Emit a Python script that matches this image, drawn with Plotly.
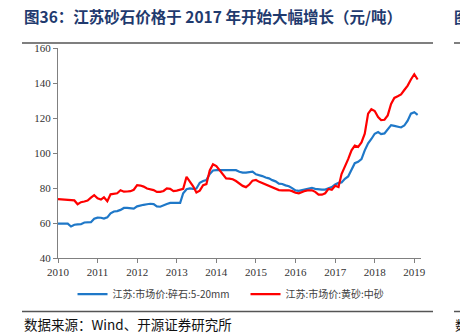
import plotly.graph_objects as go
import pandas as pd

dates = pd.date_range("2010-01-01", periods=110, freq="MS")

gravel = [59.6, 59.5, 59.6, 59.6, 58.0, 59.0, 59.2, 59.3, 60.3, 60.6,
          60.5, 62.5, 63.1, 63.0, 62.5, 63.2, 65.5, 66.6, 66.8, 67.5,
          68.6, 68.6, 68.6, 68.2, 69.5, 70.1, 70.4, 70.7, 71.0, 70.8,
          69.5, 69.3, 70.2, 70.9, 71.5, 71.5, 71.3, 71.5, 77.0, 79.3,
          79.8, 79.5, 79.7, 83.0, 84.0, 84.5, 88.0, 90.0, 90.2, 90.2,
          90.3, 90.5, 90.6, 90.5, 90.2, 89.3, 88.8, 88.8, 89.0, 89.3,
          87.8, 87.4, 86.8, 86.0, 85.5, 84.5, 83.8, 82.5, 82.3, 81.5,
          81.0, 79.9, 78.6, 78.4, 78.8, 79.5, 80.0, 80.0, 79.5, 79.2,
          79.1, 79.1, 79.8, 80.5, 82.0, 82.9, 83.2, 85.3, 86.6, 90.5,
          94.2, 95.0, 96.5, 101.5, 105.5, 108.0, 111.0, 112.0, 110.8, 111.2,
          113.4, 115.9, 115.5, 115.0, 114.6, 115.7, 118.5, 122.5, 123.3, 121.8]

sand = [73.6, 73.4, 73.3, 73.0, 73.0, 72.9, 70.7, 71.9, 72.3, 72.8,
        74.5, 75.9, 74.1, 73.4, 74.7, 72.4, 76.4, 76.7, 77.0, 78.7,
        77.9, 78.0, 78.2, 79.0, 81.6, 81.4, 80.8, 79.7, 79.3, 78.8,
        77.8, 77.8, 78.3, 79.8, 79.5, 78.2, 78.5, 79.1, 79.5, 86.4,
        84.0, 81.0, 77.4, 78.5, 81.6, 82.2, 90.0, 93.6, 92.5, 90.0,
        88.0, 85.5, 85.4, 85.0, 84.0, 82.5, 81.2, 80.5, 82.0, 84.2,
        84.6, 83.5, 82.8, 82.2, 81.3, 80.5, 79.5, 78.8, 78.7, 78.7,
        78.7, 78.2, 77.3, 77.0, 77.8, 78.4, 78.7, 78.7, 77.8, 76.2,
        76.2, 77.0, 79.5, 79.0, 81.3, 80.6, 88.0, 92.0, 96.5, 101.5,
        104.2, 103.5, 106.0, 111.0, 122.5, 125.0, 124.0, 120.5, 118.8, 119.0,
        121.5, 128.0, 131.5, 132.4, 133.5, 136.0, 138.5, 142.0, 145.0, 142.0]

series_names = ["江苏:市场价:碎石:5-20mm", "江苏:市场价:黄砂:中砂"]
year_ticks = [f"{y}-01-01" for y in range(2010, 2020)]
year_labels = [str(y) for y in range(2010, 2020)]
y_ticks = [40, 60, 80, 100, 120, 140, 160]

title_text = "图36：江苏砂石价格于 2017 年开始大幅增长（元/吨）"
source_text = "数据来源：Wind、开源证券研究所"

fig = go.Figure()
fig.add_trace(go.Scatter(x=dates, y=gravel, mode="lines", name=series_names[0],
                         line=dict(color="#1F78C8", width=2.2)))
fig.add_trace(go.Scatter(x=dates, y=sand, mode="lines", name=series_names[1],
                         line=dict(color="#FF0000", width=2.2)))

serif = "Liberation Serif, Times New Roman, serif"
cjk = "Noto Sans CJK SC"

fig.update_layout(
    width=460, height=336,
    margin=dict(l=58, r=39, t=48, b=78),
    paper_bgcolor="white", plot_bgcolor="white",
    showlegend=True,
    legend=dict(orientation="h", x=0.04, y=-0.172, xanchor="left", yanchor="middle",
                font=dict(family=cjk, size=10, color="#404040"),
                itemwidth=30, entrywidth=128, entrywidthmode="pixels",
                bgcolor="rgba(0,0,0,0)"),
    xaxis=dict(type="date", range=["2010-01-01", "2019-03-04"],
               tickvals=year_ticks, ticktext=year_labels,
               showline=True, linecolor="#808080", linewidth=1,
               ticks="outside", ticklen=4, tickcolor="#808080",
               showgrid=False, zeroline=False,
               tickfont=dict(family=serif, size=11, color="#333333")),
    yaxis=dict(range=[40, 160], tickvals=y_ticks,
               showline=True, linecolor="#808080", linewidth=1,
               ticks="outside", ticklen=4, tickcolor="#808080",
               showgrid=False, zeroline=False,
               tickfont=dict(family=serif, size=11, color="#333333")),
)

# title and source text
fig.add_annotation(text="<b>" + title_text + "</b>", xref="paper", yref="paper",
                   x=(22 - 58) / 363, y=(258 - 16) / 210, xanchor="left", yanchor="middle",
                   showarrow=False, font=dict(family=cjk, size=15.5, color="#1F3A6E"))
fig.add_annotation(text=source_text, xref="paper", yref="paper",
                   x=(22 - 58) / 363, y=(258 - 324) / 210, xanchor="left", yanchor="middle",
                   showarrow=False, font=dict(family=cjk, size=13.5, color="#111111"))
# clipped neighbour-column fragments at the right edge
fig.add_annotation(text="<b>图</b>", xref="paper", yref="paper",
                   x=(452 - 58) / 363, y=(258 - 16) / 210, xanchor="left", yanchor="middle",
                   showarrow=False, font=dict(family=cjk, size=15, color="#1F3A6E"))
fig.add_annotation(text="数", xref="paper", yref="paper",
                   x=(453 - 58) / 363, y=(258 - 324) / 210, xanchor="left", yanchor="middle",
                   showarrow=False, font=dict(family=cjk, size=13, color="#111111"))

# rules under title and above source
for y_px, x0, x1 in [(43, 22, 433), (311.5, 22, 433), (43, 454, 460), (311.5, 454, 460)]:
    fig.add_shape(type="line", xref="paper", yref="paper",
                  x0=(x0 - 58) / 363, x1=(x1 - 58) / 363,
                  y0=(258 - y_px) / 210, y1=(258 - y_px) / 210,
                  line=dict(color="#555555", width=1.5))

fig.write_html("out.html")
